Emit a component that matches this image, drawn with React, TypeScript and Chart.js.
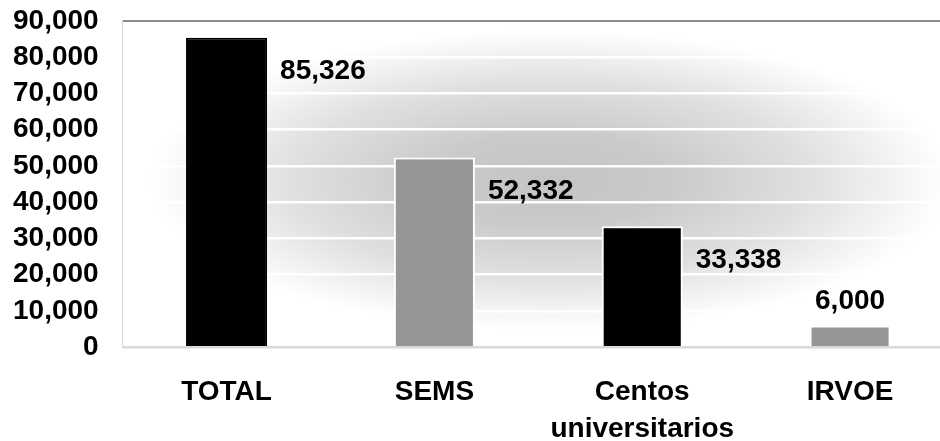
import React, { useEffect, useRef } from "react";
import { Chart, registerables } from "chart.js";

Chart.register(...registerables);

const categories: (string | string[])[] = ["TOTAL", "SEMS", ["Centos", "universitarios"], "IRVOE"];
const values: number[] = [85326, 52332, 33338, 6000];
const barColors: string[] = ["#000000", "#969696", "#000000", "#969696"];
const barBorders: string[] = ["#000000", "#ffffff", "#ffffff", "#ffffff"];
const yTicks: number[] = [0, 10000, 20000, 30000, 40000, 50000, 60000, 70000, 80000, 90000];
const yMin = 0;
const yMax = 90000;

const FONT = "'Liberation Sans', Arial, sans-serif";
const fmt = new Intl.NumberFormat("en-US");
const SHIFT_X = 11;
const SHIFT_Y = 20;

const bgPlugin = {
  id: "bgGradient",
  beforeDraw(chart: any) {
    const { ctx, chartArea } = chart;
    const { left, top, right, bottom } = chartArea;
    ctx.save();
    ctx.fillStyle = "#ffffff";
    ctx.fillRect(left, top, right - left, bottom - top);
    const cx = 550 + SHIFT_X;
    const cy = 180 + SHIFT_Y;
    const rx = 400;
    const ry = 150;
    ctx.beginPath();
    ctx.rect(left, top, right - left, bottom - top);
    ctx.clip();
    ctx.translate(cx, cy);
    ctx.scale(rx / ry, 1);
    const g = ctx.createRadialGradient(0, 0, 0, 0, 0, ry);
    g.addColorStop(0, "#c4c4c4");
    g.addColorStop(0.3, "#cacaca");
    g.addColorStop(0.65, "#e0e0e0");
    g.addColorStop(1, "#ffffff");
    ctx.fillStyle = g;
    ctx.fillRect(-ry * 4, -ry * 4, ry * 8, ry * 8);
    ctx.restore();
  },
};

const labelPlugin = {
  id: "barLabels",
  afterDatasetsDraw(chart: any) {
    const { ctx } = chart;
    const meta = chart.getDatasetMeta(0);
    ctx.save();
    ctx.font = `bold 28px ${FONT}`;
    ctx.fillStyle = "#000000";
    ctx.textBaseline = "middle";
    meta.data.forEach((bar: any, i: number) => {
      const v = values[i];
      const { x, y, width } = bar.getProps(["x", "y", "width"], true);
      const text = fmt.format(v);
      if (v / yMax < 0.15) {
        ctx.textAlign = "center";
        ctx.fillText(text, x, y - 24);
      } else {
        ctx.textAlign = "left";
        ctx.fillText(text, x + width / 2 + 13, y + 34);
      }
    });
    ctx.restore();
  },
};

export default function App() {
  const ref = useRef<HTMLCanvasElement | null>(null);
  useEffect(() => {
    if (!ref.current) return;
    const chart = new Chart(ref.current, {
      type: "bar",
      data: {
        labels: categories as any,
        datasets: [
          {
            data: values,
            backgroundColor: barColors,
            borderColor: barBorders,
            borderWidth: 2,
            barPercentage: 0.39,
            categoryPercentage: 1,
          },
        ],
      },
      options: {
        responsive: false,
        animation: false,
        layout: { padding: { left: 0, top: 0, right: 6, bottom: 0 } },
        plugins: { legend: { display: false }, tooltip: { enabled: false } },
        scales: {
          x: {
            grid: { display: false, drawTicks: false },
            border: { display: true, color: "#d9d9d9", width: 2 },
            ticks: {
              color: "#000000",
              padding: 27,
              font: { family: FONT, size: 28, weight: "bold", lineHeight: 1.3 },
              maxRotation: 0,
              autoSkip: false,
            },
          },
          y: {
            min: yMin,
            max: yMax,
            afterBuildTicks: (scale: any) => {
              scale.ticks = yTicks.map((v) => ({ value: v }));
            },
            grid: {
              drawTicks: false,
              color: (c: any) =>
                c.tick && c.tick.value === yMax ? "#8c8c8c" : c.tick && c.tick.value === 0 ? "#d9d9d9" : "#ffffff",
              lineWidth: (c: any) => (c.tick && c.tick.value === yMax ? 2 : 2.5),
            },
            border: { display: true, color: "#d9d9d9", width: 1 },
            ticks: {
              autoSkip: false,
              color: "#000000",
              padding: 24,
              font: { family: FONT, size: 28, weight: "bold" },
              callback: (v: any) => fmt.format(Number(v)),
            },
          },
        },
      },
      plugins: [bgPlugin, labelPlugin],
    });
    return () => chart.destroy();
  }, []);
  return (
    <div
      style={{
        position: "fixed",
        left: 0,
        top: 0,
        width: 940,
        height: 441,
        overflow: "hidden",
        background: "#ffffff",
      }}
    >
      <canvas
        ref={ref}
        width={971}
        height={494}
        style={{ display: "block", position: "absolute", left: -SHIFT_X, top: -SHIFT_Y }}
      />
    </div>
  );
}
